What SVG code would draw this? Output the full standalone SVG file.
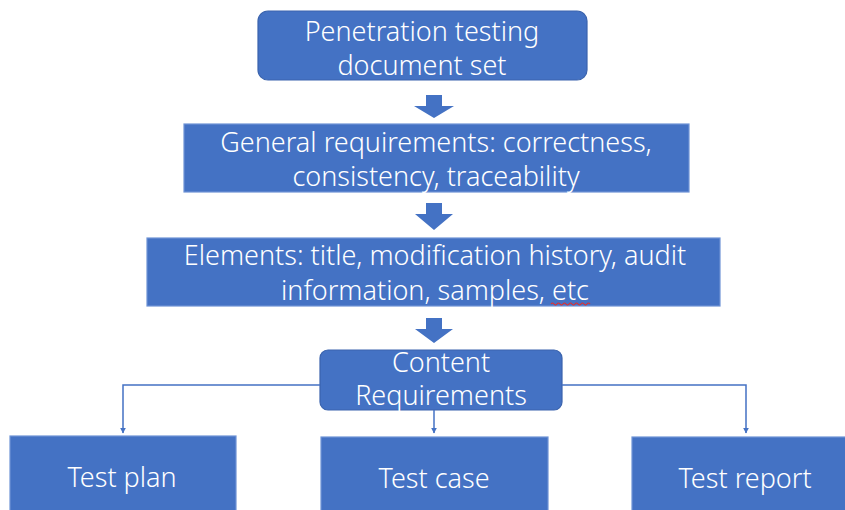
<svg xmlns="http://www.w3.org/2000/svg" width="845" height="510" viewBox="0 0 845 510">
<defs>
<style>
.box{fill:#4472C4;stroke:#6E93D6;stroke-width:1.2}
.rbox{fill:#4472C4;stroke:#3A63AD;stroke-width:1.2}
.t{fill:#ffffff;font-family:"Noto Sans","Open Sans","Liberation Sans",sans-serif;font-weight:300;font-size:27px;text-anchor:middle}
.conn{fill:none;stroke:#4472C4;stroke-width:1.5}
.blk{fill:#4472C4}
</style>
<marker id="ah" viewBox="0 0 10 10" refX="9" refY="5" markerWidth="6" markerHeight="6" markerUnits="userSpaceOnUse" orient="auto">
<path d="M0,0 L10,5 L0,10 z" fill="#4472C4"/>
</marker>
</defs>
<rect width="845" height="510" fill="#ffffff"/>

<g id="n1">
<rect class="rbox" x="258" y="11" width="329" height="69" rx="10"/>
<text class="t" x="422" y="41">Penetration testing</text>
<text class="t" x="422" y="75">document set</text>
</g>
<g id="n2">
<rect class="box" x="184" y="124" width="505" height="68"/>
<text class="t" x="436" y="152">General requirements: correctness,</text>
<text class="t" x="436" y="186">consistency, traceability</text>
</g>
<g id="n3">
<rect class="box" x="147" y="238" width="573" height="68"/>
<text class="t" x="435" y="265">Elements: title, modification history, audit</text>
<text class="t" x="435" y="300">information, samples, etc</text>
<path d="M551,304 q1.5,-2 3,0 t3,0 t3,0 t3,0 t3,0 t3,0 t3,0 t3,0 t3,0 t3,0 t3,0 t3,0 t3,0" fill="none" stroke="#E03030" stroke-width="1.2"/>
</g>
<g id="n4">
<rect class="rbox" x="320" y="350" width="242" height="60" rx="8"/>
<text class="t" x="441" y="372">Content</text>
<text class="t" x="441" y="405">Requirements</text>
</g>
<g id="n5">
<rect class="box" x="10" y="436" width="226" height="80"/>
<text class="t" x="122" y="487">Test plan</text>
</g>
<g id="n6">
<rect class="box" x="321" y="437" width="227" height="80"/>
<text class="t" x="434" y="488">Test case</text>
</g>
<g id="n7">
<rect class="box" x="632" y="437" width="220" height="80"/>
<text class="t" x="745" y="488">Test report</text>
</g>

<g id="connectors">
<path class="blk" d="M426,95 H442 V106 H454 L434,118 L414,106 H426 Z"/>
<path class="blk" d="M426,203 H442 V214 H453 L434,230 L415,214 H426 Z"/>
<path class="blk" d="M426,318 H442 V329 H453 L434,343 L415,329 H426 Z"/>
<path class="conn" d="M320,385 H123 V433" marker-end="url(#ah)"/>
<path class="conn" d="M562,385 H746 V433" marker-end="url(#ah)"/>
<path class="conn" d="M434,410 V433" marker-end="url(#ah)"/>
</g>
</svg>
